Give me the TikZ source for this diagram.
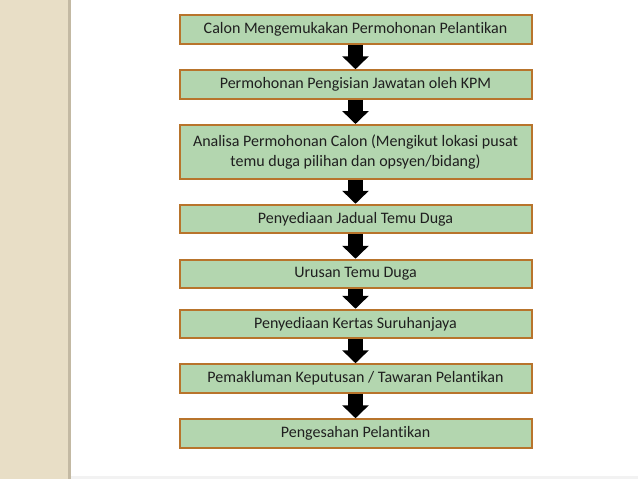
\documentclass[tikz,border=0pt]{standalone}
\usepackage{fontspec}
\setmainfont{Carlito}[Ligatures=NoCommon]
\usetikzlibrary{arrows.meta,positioning}

\definecolor{boxgreen}{HTML}{B3D6AF}
\definecolor{boxbrown}{HTML}{B8742C}
\definecolor{panelbeige}{HTML}{E8DEC6}
\definecolor{panelline}{HTML}{C3B9A3}

\begin{document}
\begin{tikzpicture}[
    x=1pt, y=-1pt,
    stage/.style={rectangle, draw=boxbrown, fill=boxgreen, line width=2pt, minimum width=352pt, minimum height=28.5pt, inner sep=2pt, text=black!88, font=\fontsize{16}{20}\selectfont, align=center},
    flow_arrow/.style={line width=15pt, -{Triangle[width=26pt, length=13pt]}},
]
    % Background panel
    \useasboundingbox (0,0) rectangle (638,479);
    \fill[panelbeige] (0,0) rectangle (68,479);
    \fill[panelline] (68,0) rectangle (71,479);
    \fill[black!5] (71,476) rectangle (638,479);

    % Stages of the process
    \node[stage] (s1) at (355.5, 29.5) {Calon Mengemukakan Permohonan Pelantikan};
    \node[stage] (s2) at (355.5, 84.5) {Permohonan Pengisian Jawatan oleh KPM};
    \node[stage, minimum height=54pt] (s3) at (355.5, 152) {Analisa Permohonan Calon (Mengikut lokasi pusat\\temu duga pilihan dan opsyen/bidang)};
    \node[stage] (s4) at (355.5, 219) {Penyediaan Jadual Temu Duga};
    \node[stage] (s5) at (355.5, 274) {Urusan Temu Duga};
    \node[stage] (s6) at (355.5, 324) {Penyediaan Kertas Suruhanjaya};
    \node[stage] (s7) at (355.5, 378.5) {Pemakluman Keputusan / Tawaran Pelantikan};
    \node[stage] (s8) at (355.5, 433.5) {Pengesahan Pelantikan};

    % Arrows
    \draw[flow_arrow] (s1) -- (s2);
    \draw[flow_arrow] (s2) -- (s3);
    \draw[flow_arrow] (s3) -- (s4);
    \draw[flow_arrow] (s4) -- (s5);
    \draw[flow_arrow] (s5) -- (s6);
    \draw[flow_arrow] (s6) -- (s7);
    \draw[flow_arrow] (s7) -- (s8);
\end{tikzpicture}
\end{document}
